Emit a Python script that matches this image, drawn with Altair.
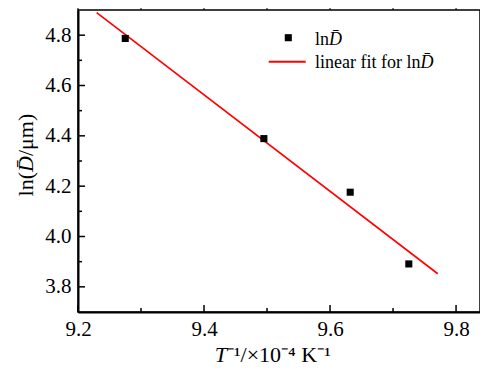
import altair as alt
import pandas as pd

# data
inv_T = [9.275, 9.495, 9.632, 9.725]
ln_D = [4.787, 4.389, 4.176, 3.891]
fit_x = [9.2296, 9.771]
fit_y = [4.890, 3.852]

x_major = [9.2, 9.4, 9.6, 9.8]
x_minor = [9.3, 9.5, 9.7]
y_major = [3.8, 4.0, 4.2, 4.4, 4.6, 4.8]
y_minor = [3.9, 4.1, 4.3, 4.5, 4.7]

legend_labels = ["ln", "linear fit for ln"]
dbar = "D\u0304"
y_title = ["ln(", dbar, "/\u03bcm)"]
x_title = ["T", "\u207b\u00b9/\u00d710\u207b\u2074 K\u207b\u00b9"]

FONT = "Liberation Serif"
W, H = 402, 302
XD = [9.2, 9.838]
YD = [3.7, 4.9]

xs = alt.Scale(domain=XD, nice=False, zero=False)
ys = alt.Scale(domain=YD, nice=False, zero=False)

pts = pd.DataFrame({"x": inv_T, "y": ln_D})
fit = pd.DataFrame({"x": fit_x, "y": fit_y})

base_axes = alt.Chart(pts).mark_point(opacity=0).encode(
    x=alt.X("x:Q", scale=xs,
            axis=alt.Axis(values=x_major, format=".1f", title=None, ticks=False,
                          grid=False, labelFont=FONT, labelFontSize=21,
                          labelColor="black", labelPadding=6, labelFlush=False,
                          domainColor="black", domainWidth=2)),
    y=alt.Y("y:Q", scale=ys,
            axis=alt.Axis(values=y_major, format=".1f", title=None, ticks=False,
                          grid=False, labelFont=FONT, labelFontSize=21,
                          labelColor="black", labelPadding=7, labelFlush=False,
                          domainColor="black", domainWidth=2)),
)

def xticks(vals, length):
    d = pd.DataFrame({"x": vals})
    return alt.Chart(d).mark_rule(color="black", strokeWidth=1.5).encode(
        x=alt.X("x:Q", scale=xs), y=alt.value(H), y2=alt.value(H - length))

def xticks_top(vals, length):
    d = pd.DataFrame({"x": vals})
    return alt.Chart(d).mark_rule(color="black", strokeWidth=1).encode(
        x=alt.X("x:Q", scale=xs), y=alt.value(0), y2=alt.value(-length))

def yticks(vals, length):
    d = pd.DataFrame({"y": vals})
    return alt.Chart(d).mark_rule(color="black", strokeWidth=1.5).encode(
        y=alt.Y("y:Q", scale=ys), x=alt.value(0), x2=alt.value(length))

line = alt.Chart(fit).mark_line(color="#ff0000", strokeWidth=1.6).encode(
    x=alt.X("x:Q", scale=xs), y=alt.Y("y:Q", scale=ys))

points = alt.Chart(pts).mark_point(shape="square", filled=True, color="black",
                                   size=50, opacity=1).encode(
    x=alt.X("x:Q", scale=xs), y=alt.Y("y:Q", scale=ys))

def txt(s, x, y, size, align="left", baseline="alphabetic", angle=0,
        style="normal"):
    d = pd.DataFrame({"t": [s]})
    kw = dict(font=FONT, fontSize=size, align=align, baseline=baseline,
              color="black", fontStyle=style)
    if angle:
        kw["angle"] = angle
    return alt.Chart(d).mark_text(**kw).encode(
        x=alt.value(x), y=alt.value(y), text="t:N")

# legend
leg_sym = alt.Chart(pd.DataFrame({"t": [legend_labels[0]]})).mark_point(
    shape="square", filled=True, color="black", size=50, opacity=1).encode(
    x=alt.value(210.3), y=alt.value(27.7))
leg_line = alt.Chart(pd.DataFrame({"t": [legend_labels[1]]})).mark_rule(
    color="#ff0000", strokeWidth=2).encode(
    x=alt.value(190.7), x2=alt.value(227.7), y=alt.value(51.7))
LF = 18
leg_t1 = txt(legend_labels[0], 237, 35, LF)
leg_t1d = txt(dbar, 237 + 0.778 * LF, 35, LF, style="italic")
leg_t2 = txt(legend_labels[1], 237, 58, LF)
leg_t2d = txt(dbar, 237 + 5.86 * LF, 58, LF, style="italic")

# axis titles
TF = 22
ty_x = -52
p = 162
yt1 = txt(y_title[0], ty_x, p, TF, align="right", baseline="middle", angle=270)
yt2 = txt(y_title[1], ty_x, p, TF, align="left", baseline="middle", angle=270,
          style="italic")
yt3 = txt(y_title[2], ty_x, p - 0.722 * TF, TF, align="left",
          baseline="middle", angle=270)

XF = 22
xt1 = txt(x_title[0], 149, 352, XF, align="right", style="italic")
xt2 = txt(x_title[1], 149, 352, XF, align="left")

chart = alt.layer(
    base_axes,
    xticks(x_major, 7), xticks(x_minor, 4),
    xticks_top(x_major + x_minor, 2),
    yticks(y_major, 7), yticks(y_minor, 4),
    line, points,
    leg_sym, leg_line, leg_t1, leg_t1d, leg_t2, leg_t2d,
    yt1, yt2, yt3, xt1, xt2,
).properties(
    width=W, height=H,
    autosize=alt.AutoSizeParams(type="none"),
    padding={"left": 70, "top": 2, "right": 0, "bottom": 56},
).configure_view(
    stroke="black", strokeWidth=1.5
).configure_axis(
    labelFont=FONT
).configure_text(
    font=FONT
)

chart.save("out.html", embed_options={"renderer": "svg", "actions": False})
